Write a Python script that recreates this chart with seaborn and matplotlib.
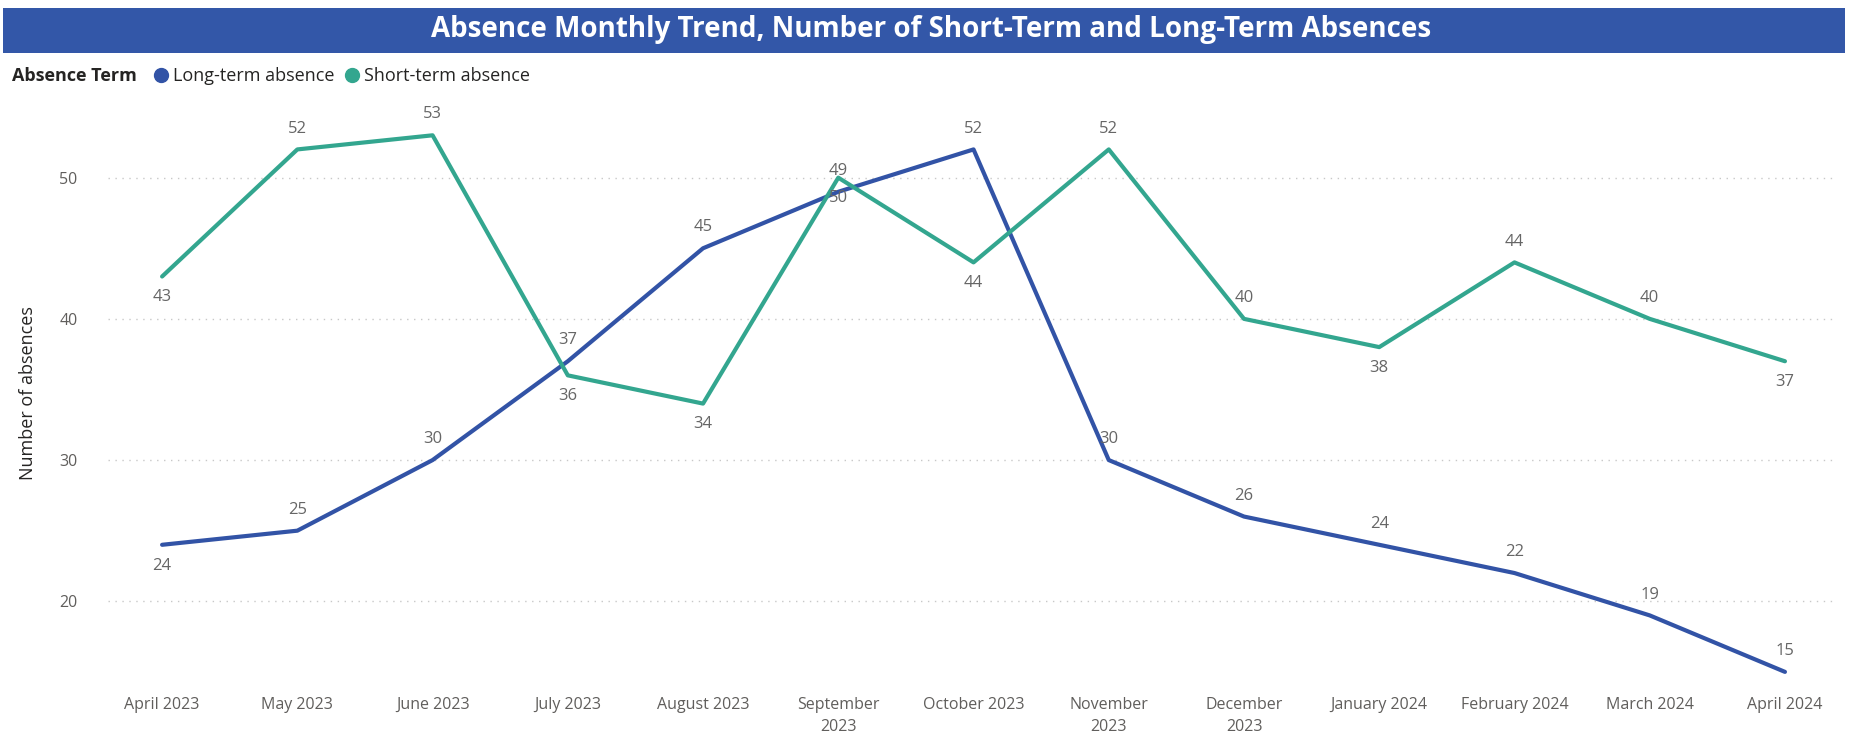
import pandas as pd
import matplotlib.pyplot as plt
import seaborn as sns
from matplotlib.patches import Rectangle
from matplotlib.lines import Line2D

# data
months = ["April 2023", "May 2023", "June 2023", "July 2023", "August 2023",
          "September\n2023", "October 2023", "November\n2023", "December\n2023",
          "January 2024", "February 2024", "March 2024", "April 2024"]
long_term = [24, 25, 30, 37, 45, 49, 52, 30, 26, 24, 22, 19, 15]
short_term = [43, 52, 53, 36, 34, 50, 44, 52, 40, 38, 44, 40, 37]
# label above (+1) or below (-1) the point
long_pos = [-1, 1, 1, 1, 1, 1, 1, 1, 1, 1, 1, 1, 1]
short_pos = [-1, 1, 1, -1, -1, -1, -1, 1, 1, -1, 1, 1, -1]

blue = "#3253A6"
teal = "#33A68F"

df = pd.DataFrame({
    "idx": list(range(len(months))) * 2,
    "value": long_term + short_term,
    "term": ["Long-term absence"] * len(months) + ["Short-term absence"] * len(months),
})

sns.set_style("white")
plt.rcParams['font.family'] = ['Open Sans', 'DejaVu Sans']

fig = plt.figure(figsize=(18.5, 7.33), dpi=100)
ax = fig.add_axes([108 / 1850, 1 - 686 / 733, (1835 - 108) / 1850, (686 - 100) / 733])

sns.lineplot(data=df, x="idx", y="value", hue="term",
             palette={"Long-term absence": blue, "Short-term absence": teal},
             linewidth=3, legend=False, ax=ax)

# data labels
for i in range(len(months)):
    ax.annotate(str(long_term[i]), (i, long_term[i]), xytext=(0, 15 * long_pos[i]),
                textcoords="offset points", ha="center", va="center",
                fontsize=12, color="#666666")
    ax.annotate(str(short_term[i]), (i, short_term[i]), xytext=(0, 15 * short_pos[i]),
                textcoords="offset points", ha="center", va="center",
                fontsize=12, color="#666666")

ax.set_xlim(-0.40, 12.37)
ax.set_ylim(14, 55.5)
ax.set_yticks([20, 30, 40, 50])
ax.set_xticks(range(len(months)))
ax.set_xticklabels(months, fontsize=11.5, color="#605E5C", va="top", linespacing=1.5)
ax.tick_params(axis="y", labelsize=11.5, labelcolor="#605E5C", length=0, pad=22)
ax.tick_params(axis="x", length=0, pad=8)
ax.grid(axis="y", linestyle=(0, (1, 4)), color="#C8C8C8", linewidth=1)
ax.set_xlabel("")
ax.set_ylabel("Number of absences", fontsize=13, color="#252423", labelpad=16)
sns.despine(ax=ax, left=True, bottom=True)

# title bar
fig.patches.append(Rectangle((3 / 1850, 1 - 53 / 733), 1842 / 1850, 45 / 733,
                             transform=fig.transFigure, facecolor="#3357A8",
                             edgecolor="none", zorder=0))
fig.text(931 / 1850, 1 - 30 / 733,
         "Absence Monthly Trend, Number of Short-Term and Long-Term Absences",
         ha="center", va="center", color="white", fontsize=20, fontweight="bold")

# legend
handles = [Line2D([], [], marker="o", linestyle="", color=blue, markersize=10),
           Line2D([], [], marker="o", linestyle="", color=teal, markersize=10)]
leg = fig.legend(handles, ["Long-term absence", "Short-term absence"],
                 loc="center left", bbox_to_anchor=(150 / 1850, 1 - 76 / 733),
                 ncol=2, frameon=False, fontsize=13, handletextpad=0.05,
                 columnspacing=0.4, handlelength=1.2, borderaxespad=0, borderpad=0)
for t in leg.get_texts():
    t.set_color("#252423")
fig.text(12 / 1850, 1 - 76 / 733, "Absence Term", ha="left", va="center",
         fontsize=13, fontweight="bold", color="#252423")

fig.savefig("out.png", dpi=100)
